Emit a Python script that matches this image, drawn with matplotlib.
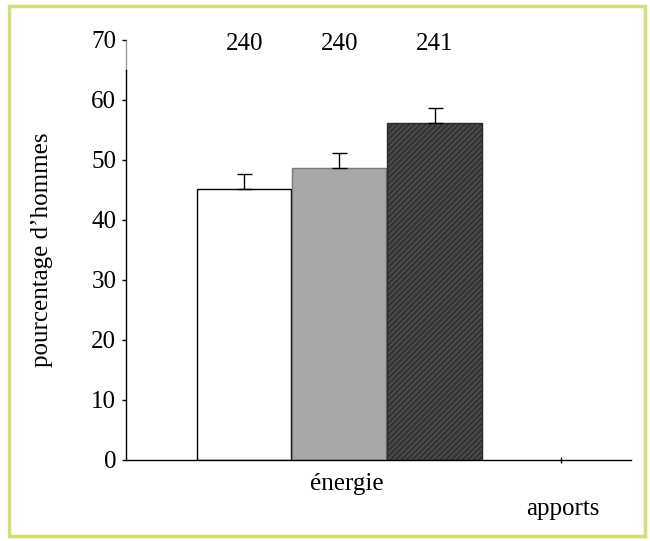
import matplotlib
matplotlib.use('Agg')

import matplotlib.pyplot as plt
from matplotlib.patches import Rectangle

plt.rcParams['font.family'] = ['Liberation Serif', 'DejaVu Serif']
plt.rcParams['hatch.linewidth'] = 1.0

# data
groups = ['énergie']
counts = ['240', '240', '241']
values = [45.1, 48.6, 56.1]
errors = [2.6, 2.6, 2.5]
x_title = 'apports'
y_title = "pourcentage d’hommes"
yticks = [0, 10, 20, 30, 40, 50, 60, 70]

faces = ['white', '#a8a8a8', '#4a4a4a']
edges = ['black', '#7a7a7a', '#2a2a2a']
hatches = ['', '', '//////']

W, H = 650, 541
fig = plt.figure(figsize=(W / 100, H / 100), dpi=100)
ax = fig.add_axes([126 / W, 81.5 / H, 505 / W, 419.5 / H])

xs = list(range(len(values)))
for i in xs:
    ax.bar(i, values[i], width=0.99, color=faces[i], edgecolor=edges[i],
           linewidth=1.0, hatch=hatches[i], zorder=2)

ax.errorbar(xs, values, yerr=[[0] * len(errors), errors], fmt='none',
            ecolor='black', elinewidth=1.0, capsize=5.4, capthick=1.0, zorder=3)

for i in xs:
    ax.text(i, 69.3, counts[i], ha='center', va='center', fontsize=18, clip_on=False)

ax.set_xlim(-1.244, 4.066)
ax.set_ylim(0, 70)

ax.spines['right'].set_visible(False)
ax.spines['top'].set_visible(False)
ax.spines['left'].set_bounds(0, 65)
ax.spines['left'].set_linewidth(1.0)
ax.spines['bottom'].set_linewidth(1.0)
ax.plot([-1.244, -1.244], [65, 70], color='#9a9a9a', lw=1.0, clip_on=False, zorder=1)

ax.set_yticks(yticks)
ax.set_yticklabels([str(t) for t in yticks], fontsize=18)
ax.tick_params(axis='y', direction='out', length=3, width=1.0, pad=4)

ax.set_xticks([3.33])
ax.set_xticklabels([''])
ax.tick_params(axis='x', direction='inout', length=5, width=1.0)

ax.text(1.08, -5.1, groups[0], ha='center', va='baseline', fontsize=18, clip_on=False)
ax.text(3.35, -9.25, x_title, ha='center', va='baseline', fontsize=18, clip_on=False)
fig.text(42 / W, 1 - 250 / H, y_title, rotation=90, ha='center', va='center', fontsize=18)

# frame round the picture
fig.patches.append(Rectangle((9 / W, 5 / H), 636 / W, 530 / H, transform=fig.transFigure,
                             fill=False, edgecolor='#d6dd74', linewidth=2.5))

fig.savefig('out.png', dpi=100)
